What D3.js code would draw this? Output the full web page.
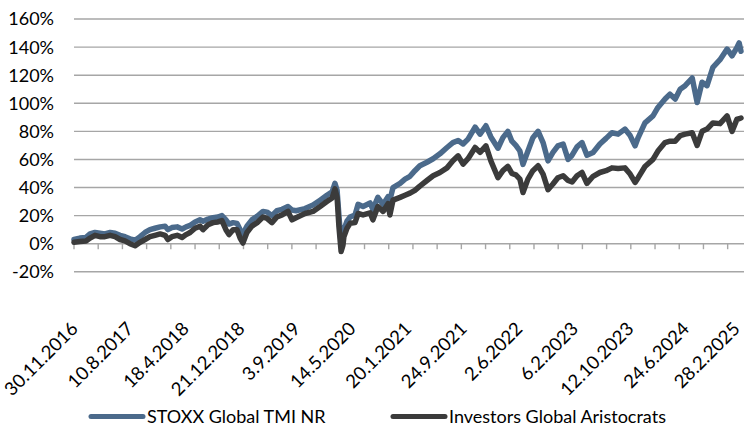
<!DOCTYPE html>
<html>
<head>
<meta charset="utf-8">
<script src="https://cdn.jsdelivr.net/npm/d3@7"></script>
<style>
  body { margin: 0; background: #fff; }
  svg { display: block; font-family: Lato, "Liberation Sans", sans-serif; }
</style>
</head>
<body>
<svg id="chart" width="744" height="426"></svg>
<script>
// trading-day index of each sampled point (0 = 30.11.2016)
const dayIndex = [0, 19, 39, 52, 68, 84, 100, 117, 133, 149, 165, 181, 198, 214, 230, 246, 262, 279, 295, 304,
  317, 334, 350, 363, 376, 392, 408, 418, 434, 450, 466, 479, 492, 502, 515, 528, 538, 547, 560, 576,
  593, 612, 625, 641, 657, 674, 693, 706, 719, 748, 774, 797, 819, 836, 845, 852, 858, 865, 871, 874,
  884, 894, 910, 920, 936, 959, 968, 984, 1001, 1017, 1023, 1033, 1056, 1072, 1088, 1104, 1120, 1143, 1163, 1185,
  1208, 1227, 1244, 1260, 1276, 1299, 1315, 1334, 1350, 1373, 1389, 1405, 1418, 1431, 1444, 1454, 1470, 1486, 1503, 1519,
  1535, 1551, 1567, 1584, 1600, 1613, 1629, 1645, 1661, 1681, 1703, 1723, 1742, 1762, 1784, 1801, 1817, 1827, 1849, 1875,
  1891, 1914, 1930, 1947, 1963, 1979, 2002, 2018, 2034, 2050, 2069, 2092, 2115, 2131, 2147, 2154, 2160];

const stoxx = [3, 4, 4.5, 7, 8, 7.5, 7, 8, 7.5, 6, 5, 3.5, 2.5, 5, 8, 10, 11, 12, 12.5, 10,
  11.5, 12, 10.5, 12, 13, 15.5, 17, 16, 17.5, 18.5, 19, 20, 17, 14, 15, 14.5, 10, 7, 12.5, 17,
  19.5, 23, 22.5, 20, 23.5, 24.5, 26.5, 24, 23.5, 25, 27.5, 31, 34.5, 37, 43, 38, 20, 0, 5, 10,
  16, 19, 20.5, 28, 26.5, 29, 24.5, 33, 28, 33.5, 31, 40, 43, 46, 48, 52, 55.5, 58, 60.5, 64,
  68.5, 72, 73.5, 71, 74.5, 83, 78, 84, 76, 68, 75.5, 80, 73, 70, 66, 56.5, 66, 75.5, 80, 72,
  59, 65, 69.7, 71, 60, 63, 69, 72, 63, 65, 71, 75, 79, 78, 81.6, 77, 69.7, 75.6, 86, 91,
  97, 103, 106.5, 103, 110, 112.5, 118, 100.5, 115, 112.5, 125.5, 131, 138.6, 133.8, 139.7, 143, 137];

const aristocrats = [1, 1.5, 2, 4, 6, 5, 5, 6, 5, 3, 2, 0, -1.5, 1, 3, 5, 6, 7, 6, 3,
  5, 6, 4.5, 6.5, 8, 11, 12.5, 10, 13.5, 15, 15.5, 16.5, 10, 6.5, 10, 10, 4, 0.5, 8, 12.5,
  15, 19, 18, 15, 19, 20.5, 23, 17, 18.5, 21.5, 23, 26.5, 30, 32.5, 39, 33, 12, -5.5, -1, 5,
  11, 14.5, 15, 21.5, 20.5, 22, 17, 26.5, 23, 28.5, 20.5, 31, 33, 34.5, 36, 38, 41, 45, 48.4, 50.7,
  54, 59, 62.6, 56.7, 60.5, 68.5, 65, 69.7, 59, 47, 52, 55, 50, 49, 46, 36.5, 46, 52, 55.5, 49.6,
  38.5, 42.5, 47, 48.4, 45, 44, 48.4, 50.7, 43, 48, 50.7, 52, 54, 53.5, 54, 49.6, 43.6, 47, 55, 60,
  66, 72, 73, 73, 77, 78, 79, 70, 80, 81.6, 86, 85.5, 91, 80, 88.7, 89, 89.5];

const yTicks = [-20, 0, 20, 40, 60, 80, 100, 120, 140, 160];
const dateLabels = ['30.11.2016', '10.8.2017', '18.4.2018', '21.12.2018', '3.9.2019', '14.5.2020', '20.1.2021',
  '24.9.2021', '2.6.2022', '6.2.2023', '12.10.2023', '24.6.2024', '28.2.2025'];
const labelEvery = 180;
const tickEvery = 78.4;
const lastDay = 2160;

const seriesNames = ['STOXX Global TMI NR', 'Investors Global Aristocrats'];
const seriesColors = ['#4b6a8b', '#3b3b3b'];

let svg = d3.select('#chart');

let x = d3.scaleLinear().domain([0, lastDay]).range([74, 741]);
let y = d3.scaleLinear().domain([-20, 160]).range([271.8, 19]);

// horizontal gridlines
svg.append('g')
   .selectAll('line')
   .data(yTicks)
   .enter()
   .append('line')
   .attr('x1', 74)
   .attr('x2', 744)
   .attr('y1', d => y(d))
   .attr('y2', d => y(d))
   .attr('stroke', '#a6a6a6')
   .attr('stroke-width', 1.4);

// y labels
svg.append('g')
   .selectAll('text')
   .data(yTicks)
   .enter()
   .append('text')
   .attr('x', 54)
   .attr('y', d => y(d))
   .attr('dy', '0.36em')
   .attr('text-anchor', 'end')
   .style('font-size', '18px')
   .attr('fill', '#000')
   .text(d => d + '%');

// small tick marks on the 0% line
svg.append('g')
   .selectAll('line')
   .data(d3.range(0, lastDay + 40, tickEvery))
   .enter()
   .append('line')
   .attr('x1', d => x(d))
   .attr('x2', d => x(d))
   .attr('y1', y(0))
   .attr('y2', y(0) + 5.5)
   .attr('stroke', '#a6a6a6')
   .attr('stroke-width', 1.4);

// rotated date labels (last one nudged so it stays inside the picture)
svg.append('g')
   .selectAll('text')
   .data(dateLabels)
   .enter()
   .append('text')
   .attr('text-anchor', 'end')
   .attr('transform', (d, i) => {
     let lx = Math.min(x(i * labelEvery) + 5, 741);
     return 'translate(' + lx + ',330) rotate(-45)';
   })
   .style('font-size', '18.5px')
   .attr('fill', '#000')
   .text(d => d);

// lines
let line = d3.line()
   .x((d, i) => x(dayIndex[i]))
   .y(d => y(d));

[stoxx, aristocrats].forEach((values, k) => {
  svg.append('path')
     .datum(values)
     .attr('d', line)
     .attr('fill', 'none')
     .attr('stroke', seriesColors[k])
     .attr('stroke-width', 5.5)
     .attr('stroke-linejoin', 'round')
     .attr('stroke-linecap', 'round');
});

// legend
const legendX = [91, 393];
let legend = svg.append('g');
seriesNames.forEach((name, k) => {
  legend.append('line')
        .attr('x1', legendX[k])
        .attr('x2', legendX[k] + 52)
        .attr('y1', 416.5)
        .attr('y2', 416.5)
        .attr('stroke', seriesColors[k])
        .attr('stroke-width', 5)
        .attr('stroke-linecap', 'round');
  legend.append('text')
        .attr('x', legendX[k] + 56)
        .attr('y', 416.5)
        .attr('dy', '0.36em')
        .style('font-size', '18px')
        .attr('fill', '#000')
        .text(name);
});
</script>
</body>
</html>
